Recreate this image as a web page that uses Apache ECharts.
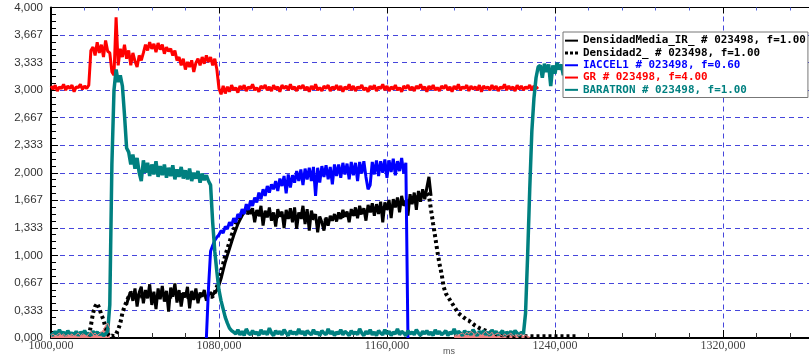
<!DOCTYPE html>
<html>
<head>
<meta charset="utf-8">
<script src="https://cdn.jsdelivr.net/npm/echarts@6/dist/echarts.min.js"></script>
<style>
  html, body { margin: 0; padding: 0; background: #fff; }
  #chart { width: 809px; height: 360px; }
</style>
</head>
<body>
<div id="chart"></div>
<script>
// time axis (ms) and tick settings
const xMin = 1000, xMax = 1361, xStep = 80;
const yMin = 0, yMax = 4, yStep = 4 / 12;

// GR # 023498, f=4.00  -- one sample per ms from grStart
const grStart = 1000;
const grValues = [
  3.05,3.01,3.06,2.99,3.04,3.02,3.07,3.00,3.05,3.02,3.06,2.98,3.04,3.03,3.07,3.01,3.05,3.02,3.06,
  3.48,3.52,3.42,3.58,3.45,3.55,3.40,3.60,3.47,3.45,3.22,3.18,
  3.88,3.30,
  3.50,3.40,3.55,3.38,3.48,3.30,3.45,3.35,3.28,3.42,3.36,
  3.45,3.55,3.48,3.58,3.50,3.56,3.46,3.57,3.49,3.55,3.44,3.52,3.47,3.50,
  3.42,3.48,3.36,3.40,3.30,3.38,3.25,3.34,3.28,3.36,3.22,3.33,
  3.38,3.30,3.40,3.32,3.42,3.34,3.40,3.30,3.38,3.25,
  3.02,2.95,3.05,2.96,3.04,2.98,3.06,3.00,3.03,2.97,
  3.05,3.01,3.06,2.99,3.04,3.02,3.07,3.00,3.03,2.98,
  3.05,3.02,3.06,3.00,3.04,2.99,3.06,3.01,3.04,2.98,
  3.06,3.02,3.05,3.00,3.07,3.01,3.04,2.99,3.05,3.02,
  3.06,3.00,3.04,2.98,3.05,3.01,3.07,3.00,3.03,2.99,
  3.05,3.02,3.06,2.99,3.04,3.01,3.06,3.00,3.05,2.98,
  3.04,3.01,3.07,3.00,3.05,2.99,3.04,3.02,3.06,3.00,
  3.03,2.98,3.05,3.01,3.06,2.99,3.04,3.02,3.07,3.00,
  3.05,2.99,3.04,3.01,3.06,3.00,3.03,2.98,3.05,3.02,
  3.06,3.00,3.04,2.99,3.05,3.02,3.07,3.01,3.04,2.98,
  3.05,3.01,3.06,3.00,3.03,2.99,3.05,3.02,3.06,3.00,
  3.04,2.98,3.05,3.01,3.07,3.00,3.04,3.02,3.06,2.99,
  3.05,3.01,3.04,3.00,3.06,2.98,3.05,3.02,3.04,3.00,
  3.06,3.01,3.05,2.99,3.04,3.02,3.07,3.00,3.05,3.01,
  3.04,2.99,3.06,3.01,3.05,3.00,3.04,3.02,3.06,3.00,
  3.05,3.02,3.04
];

// BARATRON # 023498, f=1.00
const barStart = 1000;
const barValues = [
  0.06,0.03,0.08,0.04,0.10,0.05,0.07,0.03,0.09,0.05,0.06,0.04,0.08,0.03,0.07,0.05,0.09,0.04,0.06,0.03,0.08,0.05,0.07,0.04,0.06,0.03,0.05,0.08,
  0.40,2.10,3.00,3.25,3.10,3.18,3.05,2.70,2.30,2.25,
  2.10,2.22,2.05,2.18,2.00,1.90,
  2.15,2.00,2.12,1.96,2.10,1.98,2.14,1.95,2.08,1.97,
  2.10,1.94,2.06,1.96,2.09,1.92,2.04,1.95,2.07,1.93,
  2.03,1.92,2.05,1.90,2.00,1.93,2.02,1.88,1.99,1.91,
  1.97,1.90,
  1.85,1.40,1.05,0.80,0.58,0.45,0.35,0.25,0.18,0.12,0.09,0.07,
  0.05,0.10,0.04,0.08,0.03,0.11,0.06,0.04,0.09,0.05,
  0.07,0.03,0.10,0.05,0.08,0.04,0.12,0.06,0.03,0.09,
  0.05,0.08,0.04,0.10,0.06,0.03,0.09,0.05,0.07,0.04,
  0.11,0.05,0.08,0.03,0.09,0.06,0.04,0.10,0.05,0.07,
  0.03,0.09,0.06,0.04,0.11,0.05,0.08,0.03,0.07,0.05,
  0.10,0.04,0.08,0.06,0.03,0.09,0.05,0.07,0.04,0.11,
  0.06,0.03,0.08,0.05,0.10,0.04,0.07,0.03,0.09,0.06,
  0.04,0.10,0.05,0.08,0.03,0.07,0.05,0.11,0.04,0.08,
  0.06,0.03,0.09,0.05,0.07,0.04,0.10,0.06,0.03,0.08,
  0.05,0.09,0.04,0.07,0.03,0.10,0.05,0.08,0.04,0.06,
  0.09,0.03,0.07,0.05,0.11,0.04,0.08,0.06,0.03,0.09,
  0.05,0.07,0.04,0.10,0.06,0.03,0.08,0.05,0.09,0.04,
  0.07,0.03,0.10,0.05,0.08,0.04,0.06,0.09,0.03,0.07,
  0.05,0.08,0.04,0.09,0.06,0.03,0.07,0.05,
  0.30,1.00,1.80,2.50,2.90,3.15,3.28,
  3.30,3.15,3.32,3.22,3.31,3.05,3.30,3.20,3.33,3.25,3.31,3.18,3.30
];

// IACCEL1 # 023498, f=0.60
const iaccStart = 1074;
const iaccValues = [
  0.00,0.60,1.05,1.12,1.18,1.22,1.25,1.30,1.27,1.35,1.32,1.40,
  1.36,1.45,1.40,1.50,1.46,1.56,1.50,1.62,1.55,1.66,
  1.60,1.70,1.64,1.76,1.68,1.80,1.72,1.84,1.76,1.86,
  1.80,1.90,1.78,1.93,1.84,1.96,1.75,1.98,1.82,1.97,
  1.88,2.02,1.90,2.04,1.85,2.05,1.92,2.06,1.90,2.07,
  1.72,2.06,1.88,2.08,1.95,2.09,1.92,2.07,1.86,2.10,
  1.96,2.10,1.94,2.12,1.98,2.11,1.92,2.13,1.97,2.12,
  1.90,2.13,1.99,2.14,1.95,1.80,1.85,2.13,1.98,2.15,
  1.96,2.14,2.00,2.16,1.94,2.15,2.01,2.17,1.97,2.14,
  2.02,2.18,1.99,2.12,
  0.00
];

// DensidadMedia_IR_ # 023498, f=1.00
const densStart = 1036;
const densValues = [
  0.40,0.50,0.56,
  0.45,0.60,0.38,0.55,0.62,0.42,0.58,0.48,0.65,0.40,
  0.56,0.35,0.60,0.47,0.63,0.44,0.57,0.32,0.61,0.50,
  0.66,0.43,0.58,0.38,0.55,0.49,0.62,0.36,0.57,0.46,
  0.60,0.42,0.55,0.50,0.58,0.45,0.52,0.55,
  0.52,0.55,0.58,0.64,0.72,0.82,0.92,1.00,1.08,1.16,1.24,1.31,1.38,1.43,1.48,1.52,1.55,1.58,
  1.50,1.57,1.40,1.55,1.48,1.60,1.36,1.54,1.46,1.58,
  1.42,1.52,1.35,1.56,1.47,1.53,1.33,1.55,1.44,1.57,
  1.40,1.58,1.32,1.52,1.45,1.60,1.38,1.56,1.30,1.54,
  1.45,1.50,1.28,1.47,1.40,1.30,1.46,1.36,1.48,1.42,
  1.50,1.41,1.52,1.44,1.55,1.47,1.53,1.40,1.56,1.48,
  1.58,1.45,1.60,1.50,1.57,1.42,1.61,1.52,1.63,1.48,
  1.62,1.50,1.65,1.40,1.64,1.55,1.67,1.45,1.68,1.58,
  1.70,1.52,1.72,1.60,1.66,1.48,1.74,1.62,1.76,1.55,
  1.78,1.65,1.80,1.68,1.82,1.95,1.72
];

// Densidad2_ # 023498, f=1.00  (irregular sample times)
const dens2Times = [
  1018,1019,1020,1021,1022,1023,1024,1025,1026,1027,1028,1029,1030,1031,1032,1033,1034,1035,1036,1037,1038,
  1042,1046,1050,1054,1058,1062,1066,1070,1074,
  1077,1078,1079,1080,1081,1082,1083,1084,1085,1086,1087,1088,1089,1090,1091,
  1093,1097,1101,1105,1110,1115,1120,1125,1130,1135,1140,1145,1150,1155,1160,1165,1170,1174,
  1177,1179,1180,
  1181,1182,1183,1184,1185,1186,1187,1188,1189,1190,1191,1192,1193,1194,1195,1196,1197,1198,1199,1200,
  1202,1204,1206,1208,1210,1213,1216,1220,1225,
  1230,1235,1240,1245,1250
];
const dens2Values = [
  0.02,0.15,0.30,0.38,0.42,0.36,0.28,0.22,0.12,0.05,0.02,0.03,0.02,0.05,0.10,0.18,0.30,0.38,0.44,0.50,0.55,
  0.50,0.52,0.49,0.51,0.50,0.52,0.49,0.51,0.50,
  0.50,0.55,0.62,0.70,0.80,0.90,1.00,1.08,1.16,1.24,1.31,1.38,1.44,1.49,1.52,
  1.52,1.50,1.49,1.48,1.47,1.47,1.46,1.45,1.42,1.45,1.48,1.50,1.53,1.56,1.58,1.62,1.66,1.70,
  1.74,1.76,1.72,
  1.55,1.38,1.22,1.05,0.90,0.78,0.62,0.54,0.50,0.46,0.42,0.38,0.34,0.30,0.28,0.26,0.24,0.22,0.21,0.19,
  0.15,0.12,0.10,0.08,0.06,0.04,0.03,0.02,0.02,
  0.02,0.02,0.02,0.02,0.02
];

// pink overlap strip near zero (drawing artefact of the original plot)
const pinkStartA = 1000;
const pinkValuesA = [
  0.03,0.05,0.02,0.04,0.06,0.03,0.05,0.02,0.04,0.03,0.05,0.02,0.04,0.06,0.03,
  0.05,0.04,0.02,0.05,0.08,0.04,0.06,0.03,0.05,0.07,0.10,0.15,0.18,0.12
];
const pinkStartB = 1192;
const pinkValuesB = [
  0.02,0.04,0.03,0.05,0.06,0.04,0.07,0.05,0.08,0.06,0.04,0.07,0.05,0.03,0.06,0.08,0.05,0.04,0.07,
  0.03,0.05,0.06,0.04,0.02,0.05,0.03,0.04,0.06,0.03,0.02,0.04,0.03,0.05,0.02,0.03,0.02,0.01
];

const legendNames = [
  'DensidadMedia_IR_ # 023498, f=1.00',
  'Densidad2_ # 023498, f=1.00',
  'IACCEL1 # 023498, f=0.60',
  'GR # 023498, f=4.00',
  'BARATRON # 023498, f=1.00'
];
const colors = ['#000000', '#000000', '#0000ff', '#ff0000', '#008080'];

const toPairs = (start, vals) => vals.map((v, i) => [start + i, v]);
const fmt = v => v.toFixed(3).replace('.', ',');

const chart = echarts.init(document.getElementById('chart'), null, { renderer: 'canvas' });

const gridLine = { show: true, lineStyle: { color: '#4646dc', type: [5, 4], width: 1 } };

const lineSeries = (name, data, color, width, extra) => Object.assign({
  name: name,
  type: 'line',
  data: data,
  showSymbol: false,
  symbol: 'none',
  animation: false,
  lineStyle: { color: color, width: width },
  itemStyle: { color: color },
  xAxisIndex: 0
}, extra || {});

const pinkData = toPairs(pinkStartA, pinkValuesA)
  .concat([[pinkStartA + pinkValuesA.length, null]])
  .concat(toPairs(pinkStartB, pinkValuesB));

const option = {
  animation: false,
  backgroundColor: '#fff',
  grid: { left: 51, top: 7.5, right: -1, bottom: 22 },
  xAxis: [
    {
      type: 'value', position: 'bottom',
      min: xMin, max: xMax, interval: xStep,
      axisLine: { show: true, onZero: false, lineStyle: { color: '#000', width: 2 } },
      axisTick: { show: true, inside: true, length: 8, lineStyle: { color: '#000' } },
      minorTick: { show: true, splitNumber: 5, length: 5, lineStyle: { color: '#333' } },
      axisLabel: {
        formatter: fmt, showMaxLabel: false, margin: 2,
        fontFamily: 'Liberation Serif', fontSize: 12, color: '#444'
      },
      splitLine: gridLine
    },
    {
      type: 'value', position: 'top',
      min: xMin, max: xMax, interval: xStep,
      axisLine: { show: true, onZero: false, lineStyle: { color: '#000', width: 1 } },
      axisTick: { show: true, inside: true, length: 6, lineStyle: { color: '#000' } },
      minorTick: { show: true, splitNumber: 5, length: 3, lineStyle: { color: '#5566dd' } },
      axisLabel: { show: false },
      splitLine: { show: false }
    }
  ],
  yAxis: {
    type: 'value', min: yMin, max: yMax, interval: yStep,
    axisLine: { show: true, lineStyle: { color: '#000', width: 2 } },
    axisTick: { show: true, inside: true, length: 7, lineStyle: { color: '#000' } },
    minorTick: { show: true, splitNumber: 4, length: 5, lineStyle: { color: '#000' } },
    axisLabel: {
      formatter: fmt, margin: 8,
      fontFamily: 'Liberation Sans', fontSize: 11.5, color: '#333'
    },
    splitLine: gridLine
  },
  legend: {
    orient: 'vertical',
    left: 563, top: 32,
    padding: [2.5, 2, 1.5, 2],
    itemWidth: 13, itemHeight: 3, itemGap: 0,
    selectedMode: false,
    backgroundColor: '#fff',
    borderColor: '#777',
    borderWidth: 1,
    borderRadius: 0,
    textStyle: { fontFamily: 'DejaVu Sans Mono', fontWeight: 'bold', fontSize: 10.9, lineHeight: 12.3 },
    data: legendNames.map((n, i) => ({
      name: n,
      icon: i === 1 ? 'path://M0,0h3v3h-3zM5,0h3v3h-3zM10,0h3v3h-3z' : 'path://M0,0h13v2h-13z',
      itemStyle: { color: colors[i] },
      textStyle: { color: colors[i] }
    }))
  },
  graphic: [
    { type: 'text', left: 443, top: 347, style: { text: 'ms', fontSize: 9, fontFamily: 'Liberation Sans', fill: '#555' } }
  ],
  series: [
    lineSeries(legendNames[0], toPairs(densStart, densValues), colors[0], 3),
    lineSeries(legendNames[1], dens2Times.map((t, i) => [t, dens2Values[i]]), colors[1], 4,
      { lineStyle: { color: '#000', width: 4, type: [3, 3], cap: 'butt' } }),
    lineSeries(legendNames[2], toPairs(iaccStart, iaccValues), colors[2], 3),
    lineSeries(legendNames[3], toPairs(grStart, grValues), colors[3], 3),
    lineSeries(legendNames[4], toPairs(barStart, barValues), colors[4], 3.5),
    lineSeries('overlap', pinkData, '#f08080', 1, { areaStyle: { color: '#f08080', opacity: 1 }, connectNulls: false })
  ]
};

chart.setOption(option);
</script>
</body>
</html>
